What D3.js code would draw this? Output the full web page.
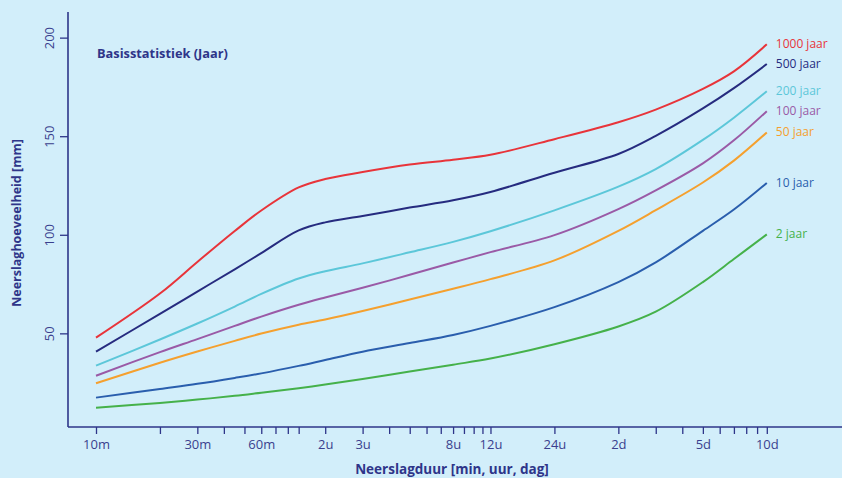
<!DOCTYPE html>
<html>
<head>
<meta charset="utf-8">
<script src="https://cdn.jsdelivr.net/npm/d3@7"></script>
<style>
  html, body { margin: 0; padding: 0; background: #d2eefa; }
  svg { display: block; font-family: 'Open Sans', sans-serif; }
</style>
</head>
<body>
<div id="chart"></div>
<script>
// durations in minutes
const durations = [10, 20, 30, 45, 60, 90, 120, 180, 300, 480, 720, 1440, 2880, 4320, 7200, 10080, 14400];

// precipitation (mm) per return period
const jaar1000 = [47.8, 70.2, 86.2, 101.9, 112.3, 124.0, 128.3, 131.8, 135.6, 138.1, 140.6, 148.5, 157.1, 163.5, 174.0, 182.9, 196.6];
const jaar500 = [40.7, 59.9, 71.2, 82.5, 90.7, 102.2, 106.3, 109.5, 113.8, 117.5, 121.7, 131.5, 141.0, 150.2, 164.1, 174.4, 186.6];
const jaar200 = [33.6, 46.9, 55.0, 63.6, 70.0, 77.8, 81.5, 85.5, 91.1, 96.4, 101.8, 112.4, 124.4, 133.3, 148.1, 159.4, 172.8];
const jaar100 = [28.5, 40.5, 47.1, 53.8, 58.5, 64.5, 68.2, 73.1, 79.7, 85.9, 91.2, 99.8, 113.0, 122.5, 136.2, 147.9, 162.7];
const jaar50 = [24.7, 35.1, 40.8, 46.2, 49.9, 54.4, 57.0, 61.3, 67.2, 72.6, 77.5, 87.0, 102.0, 112.5, 126.5, 137.6, 151.9];
const jaar10 = [17.4, 21.8, 24.4, 27.4, 29.7, 33.5, 36.5, 40.7, 45.1, 49.2, 53.8, 63.3, 76.0, 86.0, 102.0, 112.8, 126.3];
const jaar2 = [12.3, 14.7, 16.4, 18.3, 19.9, 22.2, 24.0, 26.8, 30.6, 34.1, 37.2, 44.5, 53.5, 61.0, 76.0, 87.7, 100.2];

const seriesNames = ['1000 jaar', '500 jaar', '200 jaar', '100 jaar', '50 jaar', '10 jaar', '2 jaar'];
const seriesValues = [jaar1000, jaar500, jaar200, jaar100, jaar50, jaar10, jaar2];
const seriesColors = ['#e8343a', '#262b7f', '#5cc7d9', '#9a5aa6', '#f5a02e', '#2a5ead', '#45b14a'];

// x ticks (minutes) with labels, and unlabelled minor ticks
const xLabelTicks = [10, 30, 60, 120, 180, 480, 720, 1440, 2880, 7200, 14400];
const xLabels = ['10m', '30m', '60m', '2u', '3u', '8u', '12u', '24u', '2d', '5d', '10d'];
const xMinorTicks = [20, 40, 50, 70, 80, 90, 240, 300, 360, 420, 540, 600, 660, 4320, 5760, 8640, 10080, 11520, 12960];
const yTicks = [50, 100, 150, 200];

const width = 842;
const height = 478;
const axisColor = '#2e3589';
const textColor = '#3a3f8e';

const svg = d3.select('#chart')
  .append('svg')
  .attr('width', width)
  .attr('height', height);

svg.append('rect')
  .attr('width', width)
  .attr('height', height)
  .attr('fill', '#d2eefa');

const x = d3.scaleLog()
  .domain([10, 14400])
  .range([96, 766.8]);

const y = d3.scaleLinear()
  .domain([2.5, 213])
  .range([427, 12]);

// x axis
const labelMap = new Map(xLabelTicks.map((t, i) => [t, xLabels[i]]));
const xAxis = svg.append('g')
  .attr('transform', `translate(0,${y(2.5)})`)
  .call(d3.axisBottom(x)
    .tickValues(xLabelTicks.concat(xMinorTicks))
    .tickFormat(d => labelMap.get(d) || '')
    .tickSizeInner(7)
    .tickSizeOuter(0)
    .tickPadding(6));
xAxis.select('.domain').remove();
xAxis.selectAll('.tick line').attr('stroke', axisColor).attr('stroke-width', 1.3);
xAxis.selectAll('.tick text')
  .attr('fill', textColor)
  .style('font-size', '13px')
  .style('font-family', "'Open Sans', sans-serif");

svg.append('line')
  .attr('x1', 68).attr('x2', width)
  .attr('y1', y(2.5)).attr('y2', y(2.5))
  .attr('stroke', axisColor)
  .attr('stroke-width', 1.6);

// y axis
const yAxis = svg.append('g')
  .attr('transform', 'translate(68,0)')
  .call(d3.axisLeft(y)
    .tickValues(yTicks)
    .tickSizeInner(8)
    .tickSizeOuter(0));
yAxis.select('.domain').remove();
yAxis.selectAll('.tick line').attr('stroke', axisColor).attr('stroke-width', 1.3);
yAxis.selectAll('.tick text')
  .attr('x', null)
  .attr('dy', '0.36em')
  .attr('transform', 'translate(-18.5,0) rotate(-90)')
  .attr('text-anchor', 'middle')
  .attr('fill', textColor)
  .style('font-size', '13px')
  .style('font-family', "'Open Sans', sans-serif");

svg.append('line')
  .attr('x1', 68).attr('x2', 68)
  .attr('y1', 12).attr('y2', y(2.5))
  .attr('stroke', axisColor)
  .attr('stroke-width', 1.6);

// lines - smooth curve through the read-off points
const line = d3.line()
  .x((d, i) => x(durations[i]))
  .y(d => y(d))
  .curve(d3.curveCatmullRom.alpha(0.5));

svg.append('g')
  .selectAll('path')
  .data(seriesValues)
  .enter().append('path')
  .attr('fill', 'none')
  .attr('stroke', (d, i) => seriesColors[i])
  .attr('stroke-width', 2)
  .attr('d', line);

// end labels
svg.append('g')
  .selectAll('text')
  .data(seriesValues)
  .enter().append('text')
  .attr('x', x(durations[durations.length - 1]) + 9)
  .attr('y', d => y(d[d.length - 1]) + 4)
  .attr('fill', (d, i) => seriesColors[i])
  .style('font-size', '12px')
  .text((d, i) => seriesNames[i]);

// titles
svg.append('text')
  .attr('x', 97)
  .attr('y', 57.5)
  .attr('fill', axisColor)
  .style('font-size', '12.8px')
  .style('font-weight', 'bold')
  .text('Basisstatistiek (Jaar)');

svg.append('text')
  .attr('transform', 'translate(20.5,223) rotate(-90)')
  .attr('text-anchor', 'middle')
  .attr('fill', axisColor)
  .style('font-size', '12.5px')
  .style('font-weight', 'bold')
  .text('Neerslaghoeveelheid [mm]');

svg.append('text')
  .attr('x', 452)
  .attr('y', 474)
  .attr('text-anchor', 'middle')
  .attr('fill', axisColor)
  .style('font-size', '13.5px')
  .style('font-weight', 'bold')
  .text('Neerslagduur [min, uur, dag]');
</script>
</body>
</html>
